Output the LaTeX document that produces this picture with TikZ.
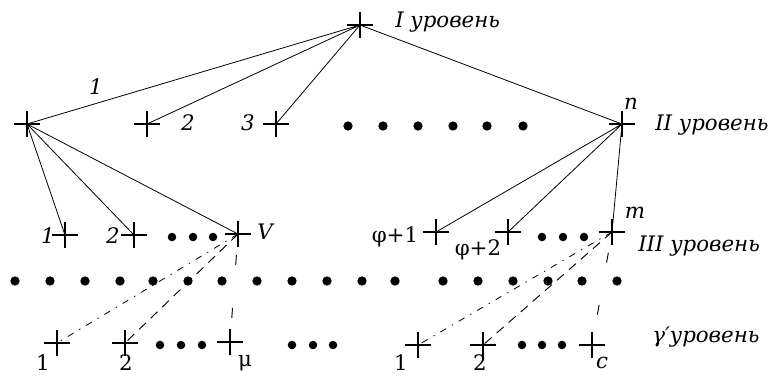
\documentclass[tikz,border=0pt]{standalone}
\usepackage{fontspec}
\setmainfont{DejaVu Serif}
\usepackage{tikz}

\tikzset{
  krest/.pic={\draw[line width=1.4pt] (-13,0)--(13,0) (0,-13)--(0,13);},
  lvl/.style={font=\itshape\fontsize{16}{18}\selectfont, anchor=west, inner sep=0pt},
  num/.style={font=\itshape\fontsize{16}{18}\selectfont, inner sep=0pt},
  rnum/.style={font=\fontsize{16}{18}\selectfont, inner sep=0pt},
  svyaz/.style={line width=0.6pt},
  shtrih/.style={line width=0.7pt, dash pattern=on 7pt off 5pt},
  shtrihtochka/.style={line width=0.6pt, dash pattern=on 5pt off 5pt on 1pt off 5pt},
  redko/.style={line width=0.7pt, dash pattern=on 7.5pt off 32.25pt, dash phase=24pt},
}

\begin{document}
\begin{tikzpicture}[x=0.75pt,y=-0.75pt]
\useasboundingbox (0,0) rectangle (774,376);
% level I
\coordinate (u1) at (360,25);
% level II
\coordinate (a1) at (27,124);
\coordinate (a2) at (147,124);
\coordinate (a3) at (276,124);
\coordinate (an) at (622,124);
% level III
\coordinate (b1) at (65,235);
\coordinate (b2) at (134,235);
\coordinate (bv) at (238,234);
\coordinate (bf1) at (436,232);
\coordinate (bf2) at (508,232);
\coordinate (bm) at (612,232);
% level gamma
\coordinate (c1) at (57,343);
\coordinate (c2) at (125,343);
\coordinate (cmu) at (230,342);
\coordinate (d1) at (418,345);
\coordinate (d2) at (483,345);
\coordinate (dc) at (592,345);

\foreach \p in {u1,a1,a2,a3,an,b1,b2,bv,bf1,bf2,bm,c1,c2,cmu,d1,d2,dc}
  \pic at (\p) {krest};

\draw[svyaz] (u1)--(a1) (u1)--(a2) (u1)--(a3) (u1)--(an);
\draw[svyaz] (a1)--(b1) (a1)--(b2) (a1)--(bv);
\draw[svyaz] (an)--(bf1) (an)--(bf2) (an)--(bm);
\draw[shtrihtochka] (bv)--(c1);
\draw[shtrih] (bv)--(c2);
\draw[redko] (bv)--(cmu);
\draw[shtrihtochka] (bm)--(d1);
\draw[shtrih] (bm)--(d2);
\draw[redko] (bm)--(dc);

% dots
\foreach \x in {348,383,418,453,487,523} \fill (\x,126) circle (3.5pt);
\foreach \x in {172,193,213,542,563,584} \fill (\x,237) circle (3.2pt);
\foreach \x in {15,50,85,120,153,188,222,257,292,327,362,395,443,478,513,548,582,617}
  \fill (\x,281) circle (3.5pt);
\foreach \x in {160,181,202,292,313,333,522,542,562} \fill (\x,345) circle (3.2pt);

% labels
\node[lvl] (tI) at (395,22) {I уровень};
\node[lvl] (tII) at (655,125) {II уровень};
\node[lvl] (tIII) at (638,246) {III уровень};
\node[lvl] (tG) at (652,337) {γ′уровень};
\node[num] (l1) at (96,87) {1};
\node[num] (l2) at (188,123) {2};
\node[num] (l3) at (248,123) {3};
\node[num] (ln) at (631,104) {n};
\node[num] (m1) at (48,236) {1};
\node[num] (m2) at (113,236) {2};
\node[num] (mv) at (265,232) {V};
\node[rnum] (mf1) at (395,237) {φ+1};
\node[rnum] (mf2) at (478,250) {φ+2};
\node[num] (mm) at (635,213) {m};
\node[rnum] (g1) at (43,363) {1};
\node[rnum] (g2) at (126,363) {2};
\node[rnum] (gmu) at (245,363) {μ};
\node[rnum] (h1) at (401,363) {1};
\node[rnum] (h2) at (480,363) {2};
\node[num] (hc) at (602,363) {c};
\end{tikzpicture}
\end{document}
